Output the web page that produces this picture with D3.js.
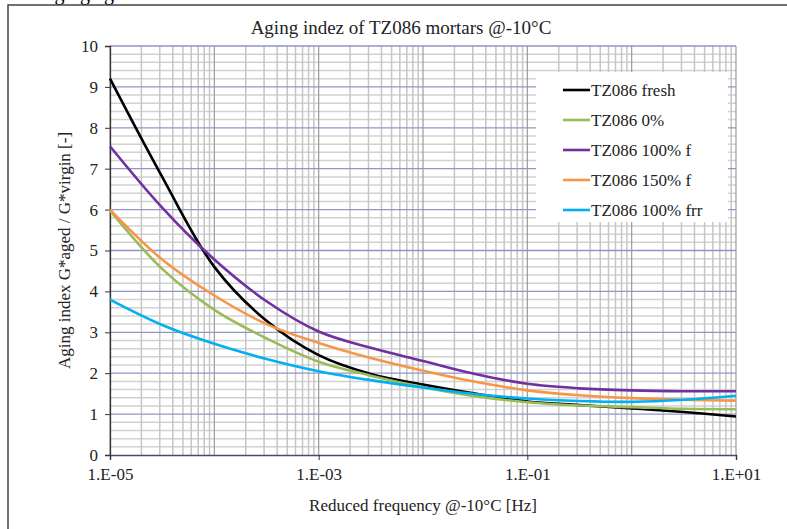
<!DOCTYPE html>
<html><head><meta charset="utf-8">
<script src="https://cdn.jsdelivr.net/npm/d3@7"></script>
<style>html,body{margin:0;padding:0;background:#fff;}svg{display:block;}svg text{font-family:"Liberation Serif","DejaVu Serif",serif !important;}</style>
</head><body>
<svg id="c" width="787" height="529"></svg>
<script>
const freq = [1e-5, 3.162e-5, 1e-4, 3.162e-4, 1e-3, 3.162e-3, 1e-2, 3.162e-2, 1e-1, 3.162e-1, 1, 3.162, 10];
const seriesNames = ["TZ086 fresh", "TZ086 0%", "TZ086 100% f", "TZ086 150% f", "TZ086 100% frr"];
const fresh   = [9.2, 6.8, 4.6, 3.28, 2.44, 1.98, 1.72, 1.5, 1.31, 1.22, 1.14, 1.05, 0.94];
const zero    = [5.98, 4.55, 3.55, 2.85, 2.28, 1.94, 1.66, 1.44, 1.29, 1.21, 1.17, 1.13, 1.12];
const f100    = [7.55, 6.05, 4.78, 3.76, 3.02, 2.62, 2.3, 1.98, 1.74, 1.63, 1.58, 1.56, 1.56];
const f150    = [6.0, 4.78, 3.9, 3.2, 2.74, 2.37, 2.06, 1.79, 1.58, 1.46, 1.39, 1.35, 1.33];
const frr100  = [3.8, 3.18, 2.72, 2.35, 2.05, 1.83, 1.65, 1.49, 1.38, 1.32, 1.30, 1.35, 1.45];
const colors  = ["#000000", "#9bbb59", "#7030a0", "#f79646", "#00b0f0"];
const xTickLabels = ["1.E-05", "1.E-03", "1.E-01", "1.E+01"];
const yTicks = [0,1,2,3,4,5,6,7,8,9,10];
const titleText = "Aging indez of TZ086 mortars @-10°C";
const xTitle = "Reduced frequency @-10°C [Hz]";
const yTitle = "Aging index G*aged / G*virgin [-]";

const allSeries = [fresh, zero, f100, f150, frr100];
const svg = d3.select("#c");
const L = 110, R = 736, T = 46, B = 455;
const x = d3.scaleLog().domain([1e-5, 10]).range([L, R]);
const y = d3.scaleLinear().domain([0, 10]).range([B, T]);

// cut-off caption text at the very top
svg.append("text").attr("x", 40).attr("y", 0).attr("font-size", 20).attr("fill", "#000").text("Aging agi");
// chart border
svg.append("rect").attr("x", 8).attr("y", 5).attr("width", 800).attr("height", 600)
  .attr("fill", "#fff").attr("stroke", "#444").attr("stroke-width", 1.5);

// minor horizontal grid
const minorY = d3.range(0, 10.001, 0.2).filter(v => Math.abs(v - Math.round(v)) > 1e-6);
svg.append("g").selectAll("line").data(minorY).join("line")
  .attr("x1", L).attr("x2", R).attr("y1", d => y(d)).attr("y2", d => y(d))
  .attr("stroke", "#d2d2d2").attr("stroke-width", 1.5);
// minor vertical grid
const minorX = [];
for (let e = -5; e < 1; e++) for (let m = 2; m <= 9; m++) minorX.push(m * Math.pow(10, e));
svg.append("g").selectAll("line").data(minorX).join("line")
  .attr("x1", d => x(d)).attr("x2", d => x(d)).attr("y1", T).attr("y2", B)
  .attr("stroke", "#c6c6c6").attr("stroke-width", 1.5);
// major vertical grid (decades)
const decades = [1e-5, 1e-4, 1e-3, 1e-2, 1e-1, 1, 10];
svg.append("g").selectAll("line").data(decades).join("line")
  .attr("x1", d => x(d)).attr("x2", d => x(d)).attr("y1", T).attr("y2", B)
  .attr("stroke", "#9a9a9a").attr("stroke-width", 1.2);
// major horizontal grid
svg.append("g").selectAll("line").data(yTicks.slice(1)).join("line")
  .attr("x1", L).attr("x2", R).attr("y1", d => y(d)).attr("y2", d => y(d))
  .attr("stroke", "#9595c5").attr("stroke-width", 1.3);

// axes
const yAxis = d3.axisLeft(y).tickValues(yTicks).tickSize(5).tickFormat(d3.format("d"));
const gy = svg.append("g").attr("transform", `translate(${L},0)`).call(yAxis)
  .attr("font-family", null).attr("font-size", null);
gy.select(".domain").attr("stroke", "#333").attr("stroke-width", 1.3);
gy.selectAll(".tick line").attr("stroke", "#333");
gy.selectAll("text").attr("font-size", 17).attr("fill", "#222").attr("x", -12);

const xTickVals = [1e-5, 1e-3, 1e-1, 10];
const xAxis = d3.axisBottom(x).tickValues(xTickVals).tickSize(5).tickFormat((d, i) => xTickLabels[i]);
const gx = svg.append("g").attr("transform", `translate(0,${B})`).call(xAxis)
  .attr("font-family", null).attr("font-size", null);
gx.select(".domain").attr("stroke", "#4a4a70").attr("stroke-width", 1.5);
gx.selectAll(".tick line").attr("stroke", "#333");
gx.selectAll("text").attr("font-size", 17).attr("fill", "#222").attr("y", 13);

// series lines
const line = d3.line().x((d, i) => x(freq[i])).y(d => y(d)).curve(d3.curveCatmullRom.alpha(0.5));
svg.append("g").selectAll("path").data(allSeries).join("path")
  .attr("d", d => line(d)).attr("fill", "none")
  .attr("stroke", (d, i) => colors[i]).attr("stroke-width", 2.6);

// titles
svg.append("text").attr("x", 401).attr("y", 34).attr("text-anchor", "middle")
  .attr("font-size", 19).attr("fill", "#222").text(titleText);
svg.append("text").attr("x", (L + R) / 2).attr("y", 511).attr("text-anchor", "middle")
  .attr("font-size", 17).attr("fill", "#222").text(xTitle);
svg.append("text").attr("transform", `translate(70,${(T + B) / 2}) rotate(-90)`).attr("text-anchor", "middle")
  .attr("font-size", 17).attr("fill", "#222").text(yTitle);

// legend
const lg = svg.append("g");
lg.append("rect").attr("x", 536).attr("y", 72).attr("width", 192).attr("height", 150).attr("fill", "#fff");
const items = lg.selectAll("g").data(seriesNames).join("g")
  .attr("transform", (d, i) => `translate(563,${90 + i * 30})`);
items.append("line").attr("x1", 0).attr("x2", 27).attr("y1", 0).attr("y2", 0)
  .attr("stroke", (d, i) => colors[i]).attr("stroke-width", 2.6);
items.append("text").attr("x", 28).attr("y", 6).attr("font-size", 17).attr("fill", "#222").text(d => d);
</script>
</body></html>
